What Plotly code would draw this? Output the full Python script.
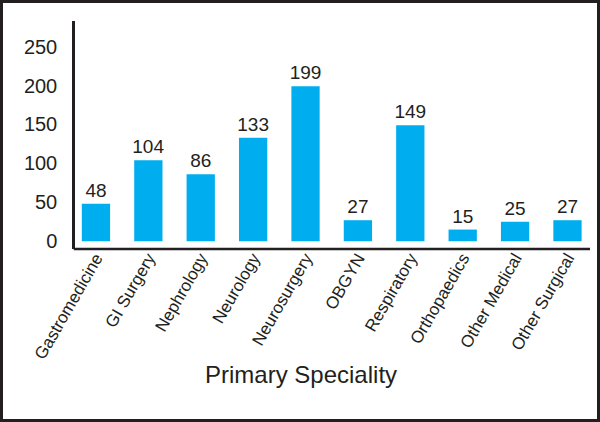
import plotly.graph_objects as go

categories = ["Gastromedicine", "GI Surgery", "Nephrology", "Neurology", "Neurosurgery",
              "OBGYN", "Respiratory", "Orthopaedics", "Other Medical", "Other Surgical"]
counts = [48, 104, 86, 133, 199, 27, 149, 15, 25, 27]
y_ticks = [0, 50, 100, 150, 200, 250]

W, H = 600, 422
ML, MR, MT, MB = 75, 10, 21, 173
pw, ph = W - ML - MR, H - MT - MB

txt = "#231f20"
font = "Liberation Sans, Arial, sans-serif"
xr = [-0.4, 9.43]

fig = go.Figure(go.Bar(
    x=categories, y=counts, marker_color="#00aeef", marker_line_width=0,
    width=0.54, text=[str(v) for v in counts], textposition="outside",
    constraintext="none",
    textfont=dict(size=19, color=txt, family=font), cliponaxis=False,
))

def px(x):
    return (x - ML) / pw

def py(y):
    return (H - MB - y) / ph

b = 3
shapes = [
    dict(type="rect", xref="paper", yref="paper", layer="below",
         x0=px(b), x1=px(W - b), y0=py(H - b), y1=py(b),
         fillcolor="white", line=dict(width=0)),
    # x-axis line
    dict(type="line", xref="paper", yref="paper", layer="above",
         x0=px(ML - 1.25), x1=1, y0=0, y1=0,
         line=dict(color=txt, width=2.5)),
]

fig.update_layout(
    width=W, height=H, margin=dict(l=ML, r=MR, t=MT, b=MB, autoexpand=False),
    paper_bgcolor="#231f20", plot_bgcolor="white", showlegend=False,
    font=dict(family=font, color=txt),
    xaxis=dict(range=xr, showline=False, anchor="free", position=py(H - MB - 5),
               showgrid=False, ticks="", tickangle=-60, automargin=False,
               tickfont=dict(size=17, color=txt, family=font)),
    yaxis=dict(range=[-10, 283], showline=True, linecolor=txt, linewidth=2.5,
               showgrid=False, zeroline=False, ticks="", tickvals=y_ticks,
               ticklabelstandoff=11, automargin=False,
               tickfont=dict(size=20, color=txt, family=font)),
    annotations=[dict(text="Primary Speciality", xref="paper", yref="paper",
                      x=px(301), y=py(374), xanchor="center", yanchor="middle",
                      showarrow=False,
                      font=dict(size=24, color=txt, family=font))],
    shapes=shapes,
)

fig.write_html("out.html", config={"displayModeBar": False},
               post_script="document.body.style.margin='0';document.body.style.overflow='hidden';")
